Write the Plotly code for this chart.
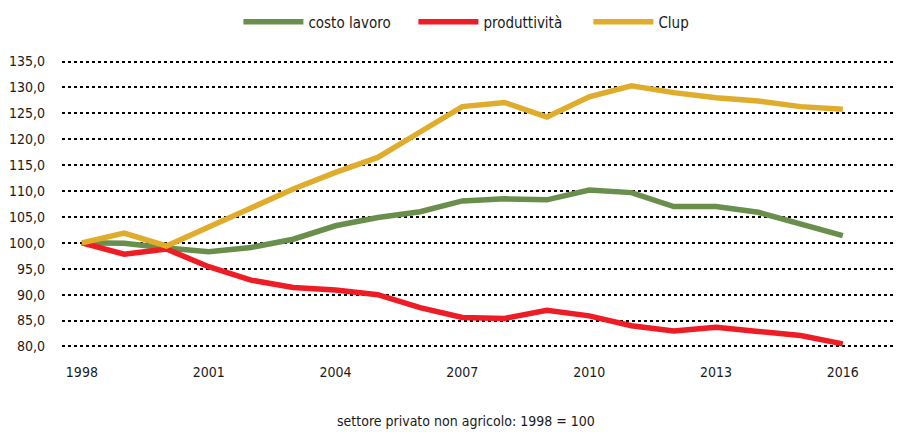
import plotly.graph_objects as go

# indici, settore privato non agricolo (1998 = 100)
anni = list(range(1998, 2017))
costo_lavoro = [100.0, 99.9, 99.0, 98.3, 99.1, 100.7, 103.3, 104.9, 106.0, 108.1,
                108.5, 108.3, 110.2, 109.7, 107.0, 107.0, 105.9, 103.6, 101.4]
produttivita = [100.0, 97.8, 98.8, 95.4, 92.8, 91.4, 90.9, 90.0, 87.5, 85.6,
                85.4, 87.0, 85.9, 84.0, 83.0, 83.7, 82.9, 82.1, 80.5]
clup = [100.0, 101.9, 99.4, 103.1, 106.8, 110.4, 113.6, 116.5, 121.4, 126.3,
        127.1, 124.3, 128.2, 130.3, 129.0, 128.0, 127.4, 126.3, 125.8]

tick_anni = [1998, 2001, 2004, 2007, 2010, 2013, 2016]
font_name = "DejaVu Sans Condensed"

fig = go.Figure()
fig.add_trace(go.Scatter(x=anni, y=costo_lavoro, mode='lines', name='costo lavoro',
                         line=dict(color='#6A8E4B', width=5.5)))
fig.add_trace(go.Scatter(x=anni, y=produttivita, mode='lines', name='produttività',
                         line=dict(color='#EE1C25', width=5.5)))
fig.add_trace(go.Scatter(x=anni, y=clup, mode='lines', name='Clup',
                         line=dict(color='#E0AC2B', width=5.5)))

# the page body adds an 8px margin, so the figure is 8px smaller each way
# y range padded a little so the 80 and 135 gridlines are still drawn
fig.update_layout(
    width=894, height=424,
    margin=dict(l=54, r=0, t=52, b=84, autoexpand=False),
    paper_bgcolor='white', plot_bgcolor='white',
    separators=',.',
    font=dict(family=font_name, size=14, color='#1a1a1a'),
    legend=dict(orientation='h', x=0.21, xanchor='left', y=0.967, yanchor='middle',
                yref='container', itemwidth=60, entrywidth=100, entrywidthmode='pixels',
                font=dict(size=15), traceorder='normal'),
    xaxis=dict(range=[1997.53, 2017.4], tickvals=tick_anni, showgrid=False,
               zeroline=False, showline=False, ticks='', ticklabelstandoff=14),
    yaxis=dict(range=[79.7, 135.3], dtick=5, tick0=80, tickformat='.1f',
               showgrid=True, gridcolor='black', griddash='dot', gridwidth=1.5,
               zeroline=False, showline=False, ticks='', ticklabelstandoff=16),
    annotations=[dict(text='settore privato non agricolo: 1998 = 100',
                      xref='paper', yref='paper', x=0.481, y=-0.252,
                      xanchor='center', yanchor='middle', showarrow=False,
                      font=dict(size=14))],
)

fig.write_html("out.html")
